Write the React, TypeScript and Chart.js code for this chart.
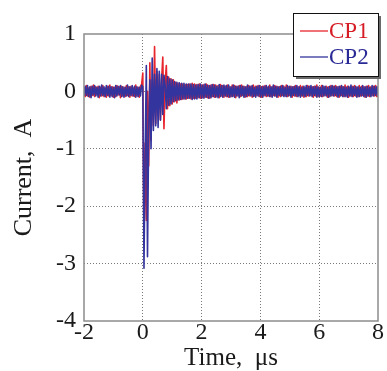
import React, { useEffect, useRef } from "react";
import { Chart, registerables } from "chart.js";

Chart.register(...registerables);

// sampling grid of the recorded waveforms (microseconds)
const T_START = -2;
const T_STEP = 0.04;

const xTicks = [-2, 0, 2, 4, 6, 8];
const yTicks = [1, 0, -1, -2, -3, -4];

// CP1 before the stroke (t = -2 .. -0.04)
const cp1Pre = [
  0.07, -0.09, 0.1, -0.08, 0.06, -0.1, 0.09, -0.07, 0.11, -0.09,
  0.08, -0.06, 0.09, -0.11, 0.07, -0.08, 0.1, -0.09, 0.06, -0.1,
  0.09, -0.08, 0.11, -0.07, 0.08, -0.1, 0.07, -0.09, 0.1, -0.06,
  0.08, -0.11, 0.09, -0.08, 0.07, -0.09, 0.1, -0.07, 0.08, -0.1,
  0.09, -0.08, 0.06, -0.09, 0.11, -0.08, 0.07, -0.1, 0.09, 0.12,
];
// CP1 burst (t = 0 .. 1.6)
const cp1Burst = [
  0.32, -2.6, -0.9, -2.25, 0.0, -1.3, 0.5, -0.85, 0.2, -0.6,
  0.78, -0.56, 0.35, -0.4, 0.3, -0.5, 0.2, 0.6, -0.65, 0.15,
  0.45, -0.3, 0.25, -0.25, 0.22, -0.22, 0.2, -0.18, 0.16, -0.2,
  0.14, -0.15, 0.13, -0.14, 0.13, -0.13, 0.12, -0.13, 0.12, -0.12,
  0.13,
];
// CP1 tail (t = 1.64 .. 8)
const cp1Tail = [
  -0.13, 0.14, -0.12, 0.13, -0.12, 0.12, -0.11, 0.13, -0.12, 0.11,
  -0.11, 0.12, -0.1, 0.13, -0.11, 0.1, -0.12, 0.11, -0.09, 0.12,
  -0.1, 0.11, -0.09, 0.1, -0.11, 0.12, -0.08, 0.1, -0.1, 0.09,
  -0.09, 0.11, -0.1, 0.08, -0.09, 0.11, -0.08, 0.1, -0.11, 0.09,
  -0.08, 0.1, -0.09, 0.11, -0.07, 0.09, -0.1, 0.08, -0.09, 0.1,
  -0.08, 0.09, -0.1, 0.11, -0.08, 0.09, -0.07, 0.1, -0.09, 0.08,
  -0.1, 0.09, -0.08, 0.1, -0.09, 0.07, -0.08, 0.11, -0.09, 0.08,
  -0.07, 0.1, -0.08, 0.09, -0.1, 0.08, -0.09, 0.1, -0.07, 0.09,
  -0.08, 0.11, -0.09, 0.08, -0.07, 0.09, -0.1, 0.08, -0.08, 0.1,
  -0.09, 0.08, -0.07, 0.1, -0.08, 0.09, -0.1, 0.07, -0.09, 0.1,
  -0.08, 0.09, -0.07, 0.08, -0.1, 0.09, -0.08, 0.11, -0.09, 0.07,
  -0.08, 0.1, -0.09, 0.08, -0.07, 0.09, -0.1, 0.08, -0.09, 0.1,
  -0.07, 0.09, -0.08, 0.1, -0.09, 0.08, -0.1, 0.09, -0.07, 0.08,
  -0.09, 0.11, -0.08, 0.09, -0.1, 0.07, -0.08, 0.09, -0.09, 0.1,
  -0.08, 0.07, -0.09, 0.1, -0.08, 0.09, -0.07, 0.08, -0.1, 0.09,
  -0.08, 0.1, -0.09, 0.08, -0.07, 0.09, -0.08, 0.1, -0.09, 0.08,
];

// CP2 before the stroke
const cp2Pre = [
  -0.08, 0.09, -0.07, 0.1, -0.09, 0.08, -0.11, 0.09, -0.06, 0.1,
  -0.08, 0.07, -0.1, 0.09, -0.08, 0.11, -0.07, 0.08, -0.09, 0.1,
  -0.07, 0.09, -0.1, 0.08, -0.09, 0.07, -0.11, 0.1, -0.08, 0.09,
  -0.06, 0.1, -0.09, 0.08, -0.1, 0.07, -0.08, 0.11, -0.09, 0.08,
  -0.07, 0.1, -0.08, 0.09, -0.1, 0.08, -0.09, 0.07, -0.08, 0.11,
];
// CP2 burst
const cp2Burst = [
  0.08, -3.08, -1.1, 0.45, -2.88, -0.7, 0.2, -1.0, 0.58, -0.68,
  0.3, -0.6, 0.4, -0.63, 0.35, -0.5, 0.3, -0.4, 0.28, 0.1,
  -0.3, 0.26, -0.24, 0.22, -0.22, 0.2, -0.18, 0.17, -0.16, 0.16,
  -0.15, 0.15, -0.14, 0.14, -0.13, 0.14, -0.13, 0.13, -0.12, 0.13,
  -0.12,
];
// CP2 tail
const cp2Tail = [
  0.13, -0.14, 0.12, -0.13, 0.11, -0.13, 0.12, -0.11, 0.13, -0.12,
  0.11, -0.12, 0.13, -0.1, 0.11, -0.12, 0.1, -0.11, 0.12, -0.09,
  0.11, -0.1, 0.09, -0.11, 0.12, -0.09, 0.1, -0.1, 0.11, -0.08,
  0.1, -0.09, 0.11, -0.1, 0.08, -0.09, 0.11, -0.1, 0.09, -0.08,
  0.09, -0.11, 0.1, -0.08, 0.09, -0.1, 0.08, -0.09, 0.11, -0.07,
  0.09, -0.08, 0.1, -0.09, 0.07, -0.1, 0.09, -0.08, 0.1, -0.09,
  0.08, -0.1, 0.09, -0.07, 0.1, -0.08, 0.09, -0.09, 0.08, -0.1,
  0.11, -0.08, 0.09, -0.1, 0.08, -0.07, 0.09, -0.08, 0.1, -0.09,
  0.07, -0.09, 0.1, -0.08, 0.09, -0.1, 0.08, -0.07, 0.09, -0.08,
  0.1, -0.09, 0.08, -0.1, 0.07, -0.08, 0.09, -0.09, 0.1, -0.07,
  0.09, -0.08, 0.1, -0.09, 0.08, -0.07, 0.09, -0.1, 0.08, -0.09,
  0.07, -0.09, 0.1, -0.08, 0.09, -0.08, 0.07, -0.1, 0.09, -0.08,
  0.1, -0.08, 0.09, -0.07, 0.08, -0.1, 0.09, -0.08, 0.1, -0.09,
  0.08, -0.09, 0.07, -0.1, 0.09, -0.08, 0.11, -0.09, 0.08, -0.07,
  0.09, -0.1, 0.08, -0.09, 0.07, -0.08, 0.1, -0.09, 0.08, -0.1,
  0.09, -0.08, 0.07, -0.09, 0.1, -0.08, 0.09, -0.07, 0.08, -0.09,
];

const seriesNames = ["CP1", "CP2"];
const lineColors = ["#e8242c", "#34349e"];
const textColors = ["#d61c24", "#2a2a96"];

const FONT = "'Liberation Serif', 'Times New Roman', serif";

function toPoints(vals: number[]) {
  return vals.map((v, i) => ({ x: Math.round((T_START + i * T_STEP) * 100) / 100, y: v }));
}

const framePlugin = {
  id: "frame",
  afterDatasetsDraw(chart: any) {
    const { ctx, chartArea } = chart;
    const { left, top, right, bottom } = chartArea;
    ctx.save();
    ctx.strokeStyle = "#8c8c8c";
    ctx.lineWidth = 1.5;
    ctx.strokeRect(left, top, right - left, bottom - top);
    ctx.restore();
  },
};

const legendPlugin = {
  id: "boxLegend",
  afterDraw(chart: any) {
    const { ctx } = chart;
    const x0 = 293, y0 = 13, w = 85, h = 63;
    ctx.save();
    ctx.fillStyle = "#6a6a6a";
    ctx.fillRect(x0 + 3, y0 + 3, w, h);
    ctx.fillStyle = "#ffffff";
    ctx.fillRect(x0, y0, w, h);
    ctx.strokeStyle = "#111";
    ctx.lineWidth = 1;
    ctx.strokeRect(x0 + 0.5, y0 + 0.5, w, h);
    const rows = [31, 57];
    seriesNames.forEach((name, i) => {
      const y = rows[i];
      ctx.strokeStyle = lineColors[i];
      ctx.lineWidth = 1.3;
      ctx.beginPath();
      ctx.moveTo(300, y);
      ctx.lineTo(328, y);
      ctx.stroke();
      ctx.fillStyle = textColors[i];
      ctx.font = `23px ${FONT}`;
      ctx.textBaseline = "middle";
      ctx.textAlign = "left";
      ctx.fillText(name, 329, y + 1);
    });
    ctx.restore();
  },
};

export default function App() {
  const ref = useRef<HTMLCanvasElement | null>(null);

  useEffect(() => {
    if (!ref.current) return;
    const edgeColor = (min: number, max: number) => (c: any) => {
      const v = c.tick ? c.tick.value : null;
      return v === min || v === max ? "rgba(0,0,0,0)" : "#7a7a7a";
    };
    const chart = new Chart(ref.current, {
      type: "line",
      data: {
        datasets: [
          {
            label: seriesNames[1],
            data: toPoints([...cp2Pre, ...cp2Burst, ...cp2Tail]),
            borderColor: lineColors[1],
            borderWidth: 1.6,
            borderJoinStyle: "round",
            pointRadius: 0,
            tension: 0,
            order: 0,
          },
          {
            label: seriesNames[0],
            data: toPoints([...cp1Pre, ...cp1Burst, ...cp1Tail]),
            borderColor: lineColors[0],
            borderWidth: 1.6,
            borderJoinStyle: "round",
            pointRadius: 0,
            tension: 0,
            order: 1,
          },
        ],
      },
      options: {
        animation: false,
        responsive: false,
        devicePixelRatio: 1,
        layout: { padding: { top: 34, right: 9, left: 0, bottom: 0 } },
        plugins: { legend: { display: false }, tooltip: { enabled: false } },
        scales: {
          x: {
            type: "linear",
            min: -2,
            max: 8,
            afterBuildTicks: (s: any) => {
              s.ticks = xTicks.map((v) => ({ value: v }));
            },
            afterFit: (s: any) => {
              s.height = 50;
            },
            ticks: {
              color: "#1a1a1a",
              padding: 0,
              maxRotation: 0,
              font: { family: FONT, size: 24, lineHeight: 1 },
              callback: (v: any) => String(v),
            },
            grid: { color: edgeColor(-2, 8), lineWidth: 1, drawTicks: false },
            border: { display: false, dash: [1, 2] },
            title: {
              display: true,
              text: "Time,  μs",
              color: "#1a1a1a",
              padding: { top: 0, bottom: 0 },
              font: { family: FONT, size: 25, lineHeight: 1 },
            },
          },
          y: {
            type: "linear",
            min: -4,
            max: 1,
            afterBuildTicks: (s: any) => {
              s.ticks = yTicks.map((v) => ({ value: v }));
            },
            afterFit: (s: any) => {
              s.width = 84;
            },
            ticks: {
              color: "#1a1a1a",
              padding: 8,
              font: { family: FONT, size: 24, lineHeight: 1 },
              callback: (v: any) => String(v),
            },
            grid: { color: edgeColor(-4, 1), lineWidth: 1, drawTicks: false },
            border: { display: false, dash: [1, 2] },
            title: {
              display: true,
              text: "Current,  A",
              color: "#1a1a1a",
              padding: { top: 11, bottom: 0 },
              font: { family: FONT, size: 26, lineHeight: 1 },
            },
          },
        },
      },
      plugins: [framePlugin, legendPlugin],
    } as any);
    return () => chart.destroy();
  }, []);

  return (
    <div style={{ position: "fixed", left: 0, top: 0, width: 387, height: 371, background: "#fff" }}>
      <canvas ref={ref} width={387} height={371} style={{ display: "block", width: 387, height: 371 }} />
    </div>
  );
}
